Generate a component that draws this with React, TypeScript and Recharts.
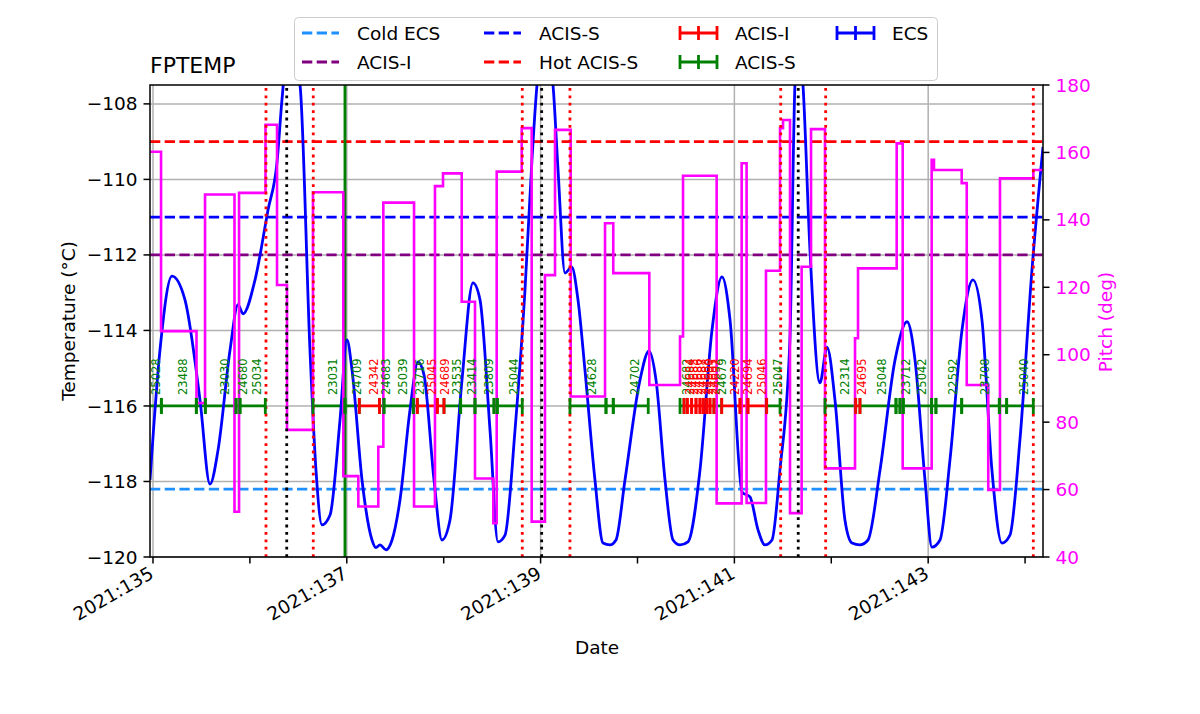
import React from 'react';
import { ComposedChart, Line, Scatter, XAxis, YAxis, ReferenceLine } from 'recharts';

const FONT = '"DejaVu Sans", Verdana, sans-serif';

// axes
const xDomain: [number, number] = [134.969, 144.185];
const tempDomain: [number, number] = [-120, -107.5];
const pitchDomain: [number, number] = [40, 180];
const dayTicks = [135, 136, 137, 138, 139, 140, 141, 142, 143, 144];
const labeledDays = [135, 137, 139, 141, 143];
const tempTicks = [-120, -118, -116, -114, -112, -110, -108];
const pitchTicks = [40, 60, 80, 100, 120, 140, 160, 180];

// FPTEMP (deg C)
const tempDays = [
  134.969, 135.072, 135.196, 135.33, 135.485, 135.588, 135.671, 135.795, 135.877, 135.929,
  136.053, 136.187, 136.28, 136.331, 136.4, 136.517, 136.62, 136.682, 136.744, 136.827,
  136.93, 137.002, 137.054, 137.157, 137.26, 137.3, 137.343, 137.405, 137.467, 137.549,
  137.652, 137.735, 137.797, 137.9, 137.982, 138.065, 138.189, 138.302, 138.375, 138.478,
  138.56, 138.633, 138.736, 138.839, 138.911, 138.963, 139.045, 139.128, 139.18, 139.252,
  139.321, 139.386, 139.458, 139.561, 139.644, 139.716, 139.778, 139.871, 140.026, 140.119,
  140.191, 140.284, 140.367, 140.439, 140.521, 140.645, 140.769, 140.872, 140.955, 141.079,
  141.161, 141.244, 141.316, 141.388, 141.47, 141.573, 141.625, 141.666, 141.708, 141.78,
  141.883, 141.956, 142.038, 142.141, 142.214, 142.296, 142.379, 142.503, 142.658, 142.782,
  142.864, 142.967, 143.039, 143.122, 143.225, 143.349, 143.462, 143.555, 143.658, 143.761,
  143.844, 143.947, 144.071, 144.185,
];
const tempValues = [
  -117.96, -114.52, -112.56, -113.19, -115.84, -118.07, -117.17, -114.52, -113.32, -113.56,
  -112.66, -110.81, -109.54, -107.89, -106.3, -107.5, -114.52, -117.7, -119.15, -118.89,
  -116.37, -114.25, -115.05, -117.96, -119.55, -119.75, -119.68, -119.81, -119.55, -118.49,
  -116.11, -114.83, -115.18, -117.96, -119.55, -119.02, -115.31, -112.74, -113.19, -116.64,
  -119.6, -119.42, -116.64, -112.93, -109.48, -107.5, -106.3, -107.5, -109.75, -112.48,
  -112.32, -113.19, -115.05, -117.96, -119.63, -119.68, -119.55, -117.96, -115.31, -114.54,
  -115.31, -117.96, -119.55, -119.68, -119.6, -117.7, -113.99, -112.58, -113.72, -118.28,
  -118.41, -119.28, -119.68, -119.55, -117.7, -114.25, -107.5, -106.3, -107.5, -111.87,
  -115.39, -114.44, -115.84, -119.02, -119.63, -119.68, -119.55, -117.7, -114.78, -113.77,
  -114.78, -117.96, -119.74, -119.55, -117.43, -113.99, -112.66, -113.72, -117.7, -119.63,
  -119.42, -116.9, -112.4, -109.14,
];

// pitch (deg), held until the next sample
const pitchDays = [
  134.969, 135.083, 135.449, 135.537, 135.841, 135.888, 136.161, 136.28, 136.383, 136.651,
  136.964, 137.119, 137.325, 137.377, 137.694, 137.91, 137.993, 138.186, 138.323, 138.512,
  138.547, 138.805, 138.908, 139.045, 139.149, 139.311, 139.665, 139.75, 140.122, 140.439,
  140.47, 140.817, 141.075, 141.126, 141.326, 141.471, 141.502, 141.574, 141.694, 141.791,
  141.935, 142.245, 142.276, 142.675, 142.737, 143.036, 143.06, 143.346, 143.398, 143.62,
  143.741, 144.085, 144.185,
];
const pitchValues = [
  160.2, 107, 85.7, 147.5, 53.4, 148, 168.2, 120.7, 77.7, 148.2,
  64, 55, 72.7, 145.1, 55, 150, 153.8, 115.7, 63.3, 50,
  154.3, 167.2, 50.5, 123.6, 166.7, 87.6, 139, 124.2, 91, 105.4,
  153.1, 55.9, 156.8, 56, 124.9, 167.2, 169.6, 53, 126.1, 166.9,
  66.3, 104.9, 125.6, 162.7, 66.3, 157.8, 154.8, 150.9, 91, 59.9,
  152.3, 154.8, 154.8,
];

// limits
const coldEcs = -118.2;
const acisSLimit = -111;
const acisILimit = -112;
const hotAcisS = -109;

const radZones = [136.166, 136.654, 138.811, 139.303, 141.478, 141.942, 144.085];
const perigees = [136.38, 139.011, 141.659];
const ecsMark = 136.981;

// observations: start, stop, obsid, instrument
const obsLevel = -116;
const observations: [number, number, string, 'S' | 'I'][] = [
  [134.886, 135.086, '25028', 'S'],
  [135.086, 135.447, '23488', 'S'],
  [135.447, 135.54, '', 'S'],
  [135.54, 135.857, '23030', 'S'],
  [135.857, 135.898, '24680', 'S'],
  [135.898, 136.159, '25034', 'S'],
  [136.651, 136.981, '23031', 'S'],
  [136.981, 137.129, '24709', 'S'],
  [137.129, 137.337, '24342', 'I'],
  [137.337, 137.384, '24683', 'S'],
  [137.384, 137.686, '25039', 'S'],
  [137.686, 137.728, '23716', 'S'],
  [137.728, 137.934, '25045', 'I'],
  [137.934, 138.003, '24689', 'I'],
  [138.003, 138.175, '23535', 'S'],
  [138.175, 138.323, '23414', 'S'],
  [138.323, 138.519, '23809', 'S'],
  [138.519, 138.553, '', 'S'],
  [138.553, 138.811, '25044', 'S'],
  [139.303, 139.675, '24628', 'S'],
  [139.675, 139.75, '', 'S'],
  [139.75, 140.111, '24702', 'S'],
  [140.439, 140.48, '24682', 'S'],
  [140.48, 140.514, '24684', 'I'],
  [140.514, 140.559, '24685', 'I'],
  [140.559, 140.604, '24686', 'I'],
  [140.604, 140.645, '24687', 'I'],
  [140.645, 140.679, '24688', 'I'],
  [140.679, 140.714, '24690', 'I'],
  [140.714, 140.748, '24691', 'I'],
  [140.748, 140.789, '24692', 'I'],
  [140.789, 140.869, '24679', 'S'],
  [140.869, 141.058, '24220', 'I'],
  [141.058, 141.14, '24694', 'I'],
  [141.14, 141.333, '25046', 'I'],
  [141.333, 141.471, '25047', 'S'],
  [141.935, 142.252, '22314', 'S'],
  [142.252, 142.296, '24695', 'I'],
  [142.296, 142.668, '25048', 'S'],
  [142.668, 142.709, '', 'S'],
  [142.709, 142.743, '23712', 'S'],
  [142.743, 143.036, '25042', 'S'],
  [143.036, 143.08, '', 'S'],
  [143.08, 143.346, '22592', 'S'],
  [143.346, 143.734, '23708', 'S'],
  [143.734, 143.81, '', 'S'],
  [143.81, 144.085, '25040', 'S'],
];

const instColor = { S: 'green', I: 'red' };

const tempData = tempDays.map((day, i) => ({ day, temp: tempValues[i] }));
const pitchData = pitchDays.map((day, i) => ({ day, pitch: pitchValues[i] }));

function trackFor(inst: 'S' | 'I') {
  const out: { day: number; track: number | null }[] = [];
  observations
    .filter((o) => o[3] === inst)
    .forEach(([s, e]) => {
      out.push({ day: s, track: obsLevel }, { day: e, track: obsLevel }, { day: e, track: null });
    });
  return out;
}
function capsFor(inst: 'S' | 'I') {
  return observations
    .filter((o) => o[3] === inst)
    .flatMap(([s, e]) => [
      { day: s, track: obsLevel },
      { day: e, track: obsLevel },
    ]);
}
const obsLabels = observations
  .filter((o) => o[2] !== '')
  .map(([s, e, id, inst]) => ({ day: (s + e) / 2, track: obsLevel, id, color: instColor[inst] }));

const fmtMinus = (v: number) => (v < 0 ? `\u2212${Math.abs(v)}` : `${v}`);

const capShape = (color: string) => (p: any) => (
  <line x1={p.cx} x2={p.cx} y1={p.cy - 8} y2={p.cy + 8} stroke={color} strokeWidth={2.8} />
);

const labelShape = (p: any) => {
  const x = p.cx + 8.5;
  const y = p.cy - 11;
  return (
    <text x={x} y={y} transform={`rotate(-90 ${x} ${y})`} fontSize={11.5} fill={p.payload.color}>
      {p.payload.id}
    </text>
  );
};

const XTick = ({ x, y, payload }: any) => {
  const d = payload.value;
  const lab = labeledDays.includes(d);
  const tx = x + 2;
  const ty = y + 20;
  return (
    <g>
      <line x1={x} x2={x} y1={y} y2={y + 6.5} stroke="#000" strokeWidth={1.5} />
      {lab && (
        <text x={tx} y={ty} textAnchor="end" fontSize={18.5} fill="#000" transform={`rotate(-30 ${tx} ${ty})`}>
          {`2021:${d}`}
        </text>
      )}
    </g>
  );
};

const legendCols = [302, 484, 680, 837];
const legendRows = [33, 62];
const legendItems = [
  { label: 'Cold ECS', color: '#1e90ff', err: false, c: 0, r: 0 },
  { label: 'ACIS-I', color: 'purple', err: false, c: 0, r: 1 },
  { label: 'ACIS-S', color: 'blue', err: false, c: 1, r: 0 },
  { label: 'Hot ACIS-S', color: 'red', err: false, c: 1, r: 1 },
  { label: 'ACIS-I', color: 'red', err: true, c: 2, r: 0 },
  { label: 'ACIS-S', color: 'green', err: true, c: 2, r: 1 },
  { label: 'ECS', color: 'blue', err: true, c: 3, r: 0 },
];

function Overlay() {
  return (
    <svg width={1200} height={714} style={{ position: 'absolute', left: 0, top: 0, pointerEvents: 'none' }} fontFamily={FONT}>
      <rect x={150} y={85} width={893} height={472} fill="none" stroke="#000" strokeWidth={1.5} />
      <text x={150} y={73} fontSize={22}>FPTEMP</text>
      <text x={75} y={321} fontSize={18.5} textAnchor="middle" transform="rotate(-90 75 321)">
        Temperature (°C)
      </text>
      <text x={1112} y={322} fontSize={18.5} textAnchor="middle" fill="#ff00ff" transform="rotate(-90 1112 322)">
        Pitch (deg)
      </text>
      <text x={597} y={654} fontSize={18.5} textAnchor="middle">Date</text>
      <rect x={294.5} y={17.5} width={643} height={63} rx={4} fill="#fff" fillOpacity={0.8} stroke="#cccccc" />
      {legendItems.map((it, i) => {
        const hx = legendCols[it.c];
        const hy = legendRows[it.r];
        return (
          <g key={i}>
            {it.err ? (
              <g stroke={it.color} strokeWidth={2.8}>
                <line x1={hx} x2={hx + 37} y1={hy} y2={hy} />
                <line x1={hx} x2={hx} y1={hy - 7} y2={hy + 7} />
                <line x1={hx + 18.5} x2={hx + 18.5} y1={hy - 7} y2={hy + 7} />
                <line x1={hx + 37} x2={hx + 37} y1={hy - 7} y2={hy + 7} />
              </g>
            ) : (
              <line x1={hx} x2={hx + 37} y1={hy} y2={hy} stroke={it.color} strokeWidth={2.8} strokeDasharray="10.3 4.4" />
            )}
            <text x={hx + 55} y={hy + 6.7} fontSize={18.5}>{it.label}</text>
          </g>
        );
      })}
    </svg>
  );
}

export default function App() {
  return (
    <div style={{ position: 'absolute', left: 0, top: 0, width: 1200, height: 714, background: '#fff', fontFamily: FONT }}>
      <ComposedChart width={1200} height={714} margin={{ top: 85, right: 0, bottom: 0, left: 0 }}>
        <XAxis
          type="number"
          dataKey="day"
          domain={xDomain}
          allowDataOverflow
          ticks={dayTicks}
          interval={0}
          height={157}
          axisLine={false}
          tickLine={false}
          tickSize={0}
          tickMargin={0}
          tick={<XTick />}
        />
        <YAxis
          yAxisId="temp"
          type="number"
          domain={tempDomain}
          allowDataOverflow
          ticks={tempTicks}
          interval={0}
          width={150}
          axisLine={false}
          tickLine={{ stroke: '#000', strokeWidth: 1.5 }}
          tickSize={6.5}
          tickMargin={6}
          tick={{ fontSize: 18.5, fill: '#000' }}
          tickFormatter={fmtMinus}
        />
        <YAxis
          yAxisId="pitch"
          orientation="right"
          type="number"
          domain={pitchDomain}
          allowDataOverflow
          ticks={pitchTicks}
          interval={0}
          width={157}
          axisLine={false}
          tickLine={{ stroke: '#000', strokeWidth: 1.5 }}
          tickSize={6.5}
          tickMargin={6}
          tick={{ fontSize: 18.5, fill: '#ff00ff' }}
        />

        {labeledDays.map((d) => (
          <ReferenceLine key={`gx${d}`} yAxisId="temp" x={d} stroke="#b0b0b0" strokeWidth={1.5} />
        ))}
        {tempTicks.map((t) => (
          <ReferenceLine key={`gy${t}`} yAxisId="temp" y={t} stroke="#b0b0b0" strokeWidth={1.5} />
        ))}

        <ReferenceLine yAxisId="temp" y={coldEcs} stroke="#1e90ff" strokeWidth={2.8} strokeDasharray="10.3 4.4" />
        <ReferenceLine yAxisId="temp" y={acisILimit} stroke="purple" strokeWidth={2.8} strokeDasharray="10.3 4.4" />
        <ReferenceLine yAxisId="temp" y={acisSLimit} stroke="blue" strokeWidth={2.8} strokeDasharray="10.3 4.4" />
        <ReferenceLine yAxisId="temp" y={hotAcisS} stroke="red" strokeWidth={2.8} strokeDasharray="10.3 4.4" />
        <ReferenceLine yAxisId="temp" x={ecsMark} stroke="green" strokeWidth={2.8} />

        <Line yAxisId="temp" data={trackFor('S')} dataKey="track" type="linear" stroke="green" strokeWidth={2.8} dot={false} connectNulls={false} isAnimationActive={false} />
        <Line yAxisId="temp" data={trackFor('I')} dataKey="track" type="linear" stroke="red" strokeWidth={2.8} dot={false} connectNulls={false} isAnimationActive={false} />
        <Scatter yAxisId="temp" data={capsFor('S')} dataKey="track" shape={capShape('green')} isAnimationActive={false} />
        <Scatter yAxisId="temp" data={capsFor('I')} dataKey="track" shape={capShape('red')} isAnimationActive={false} />
        <Scatter yAxisId="temp" data={obsLabels} dataKey="track" shape={labelShape} isAnimationActive={false} />

        <Line yAxisId="temp" data={tempData} dataKey="temp" type="monotone" stroke="blue" strokeWidth={2.8} dot={false} isAnimationActive={false} />
        <Line yAxisId="pitch" data={pitchData} dataKey="pitch" type="stepAfter" stroke="#ff00ff" strokeWidth={2.6} dot={false} isAnimationActive={false} />

        {radZones.map((d) => (
          <ReferenceLine key={`rz${d}`} yAxisId="temp" x={d} stroke="red" strokeWidth={2.8} strokeDasharray="2.8 4.6" />
        ))}
        {perigees.map((d) => (
          <ReferenceLine key={`pg${d}`} yAxisId="temp" x={d} stroke="black" strokeWidth={2.8} strokeDasharray="2.8 4.6" />
        ))}
      </ComposedChart>
      <Overlay />
    </div>
  );
}
